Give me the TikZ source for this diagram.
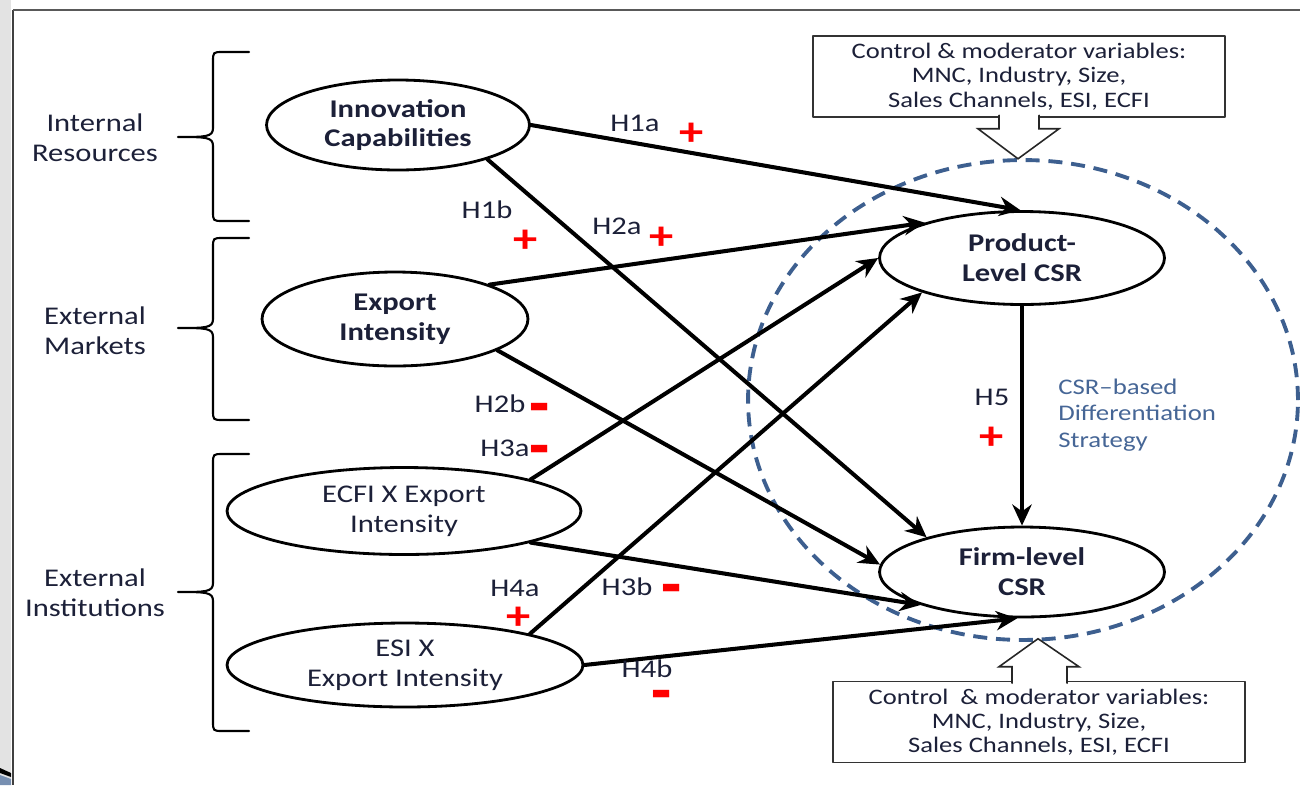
\documentclass[tikz,border=0pt]{standalone}
\usepackage{fontspec}
\setmainfont{Carlito}[FakeStretch=1.2]
\usetikzlibrary{arrows.meta,shapes.geometric}
\definecolor{txt}{RGB}{28,32,56}
\definecolor{csrblue}{RGB}{61,95,143}
\definecolor{stratblue}{RGB}{70,102,150}
\tikzset{
	construct/.style={draw,ellipse,line width=1.6pt,inner sep=0pt,align=center,text=txt,font=\fontsize{14.5}{17}\selectfont},
	ctlbox/.style={draw=black!80,line width=0.9pt,fill=white,minimum width=8.24cm,minimum height=1.62cm,inner sep=0pt,align=center,text=txt,font=\fontsize{12.6}{13.8}\selectfont},
	fatarrow/.style={draw=black!85,line width=0.9pt,fill=white,line join=miter},
	link/.style={->,line width=2.3pt},
	bracket/.style={line width=1.2pt},
	grouplabel/.style={align=center,text=txt,font=\fontsize{14.5}{17}\selectfont},
	hyp/.style={text=txt,inner sep=0pt,font=\fontsize{14.5}{17}\selectfont},
	plus/.style={text=red,inner sep=0pt,font=\fontsize{23}{23}\selectfont\bfseries},
	minus/.style={text=red,inner sep=0pt,font=\fontsize{24}{24}\selectfont\bfseries}
}
\begin{document}
\begin{tikzpicture}[x=0.02cm,y=-0.02cm,>={Stealth[length=12pt,width=11pt]},line join=round,line cap=round,font=\fontsize{13}{16}\selectfont]
	\useasboundingbox (0,0) rectangle (1300,785);
	% window frame
	\fill[gray!22] (0,0) rectangle (11,785);
	\fill[black] (0,768) -- (11,773) -- (11,777) -- (0,773) -- cycle;
	\fill[csrblue!70] (0,775) -- (11,779) -- (11,785) -- (0,785) -- cycle;
	\draw[black!75,line width=1.1pt,line cap=butt] (13,10) -- (13,785);
	\draw[black!65,line width=0.7pt,line cap=butt] (13,10) -- (1300,10);
	
	\draw[csrblue,line width=2.2pt,dash pattern=on 8pt off 5pt,line cap=butt] (1023,400) ellipse [x radius=5.5cm,y radius=4.8cm];
	
	\foreach \yt/\ym/\yb in {52/137/221,238/328/420,454/592/731}
	\draw[bracket] (249,\yt) -- (223,\yt) .. controls (213,\yt) .. (213,\yt+10) -- (213,\ym-9)
	.. controls (213,\ym) and (206,\ym) .. (178,\ym)
	.. controls (206,\ym) and (213,\ym) .. (213,\ym+9) -- (213,\yb-10)
	.. controls (213,\yb) .. (223,\yb) -- (249,\yb);
	
	\node[grouplabel] (intres) at (95,138) {Internal\\Resources};
	\node[grouplabel] (extmkt) at (95,331) {External\\Markets};
	\node[grouplabel] (extinst) at (95,593) {External\\Institutions};
	
	\node[construct,minimum width=5.26cm,minimum height=1.8cm,font=\fontsize{14.5}{17}\selectfont\bfseries] (inno) at (398,125) {Innovation\\Capabilities};
	\node[construct,minimum width=5.32cm,minimum height=1.88cm,font=\fontsize{14.5}{17}\selectfont\bfseries] (expo) at (395,319) {Export\\Intensity};
	\node[construct,minimum width=7.08cm,minimum height=1.74cm] (ecfi) at (404,511) {ECFI X Export\\Intensity};
	\node[construct,minimum width=7.12cm,minimum height=1.68cm] (esi) at (405,665) {ESI X\\Export Intensity};
	\node[construct,minimum width=5.7cm,minimum height=1.86cm,font=\fontsize{14.5}{17}\selectfont\bfseries] (prod) at (1022,258) {Product-\\Level CSR};
	\node[construct,minimum width=5.7cm,minimum height=1.8cm,font=\fontsize{14.5}{17}\selectfont\bfseries] (firm) at (1022,572) {Firm-level\\CSR};
	
	\node[ctlbox] (ctltop) at (1019,76.5) {Control \& moderator variables:\\MNC, Industry, Size,\\Sales Channels, ESI, ECFI};
	\node[ctlbox] (ctlbot) at (1039,722) {Control~ \& moderator variables:\\MNC, Industry, Size,\\Sales Channels, ESI, ECFI};
	\draw[fatarrow] ([xshift=-0.4cm,yshift=0.05cm]ctltop.south) -- ++(0,13.5) -- ++(-21,0) -- ++(40,30) -- ++(41,-30) -- ++(-20,0) -- ++(0,-13.5);
	\draw[fatarrow] ([xshift=-0.54cm,yshift=-0.05cm]ctlbot.north) -- ++(0,-16.5) -- ++(-13,0) -- ++(39,-28) -- ++(41,28) -- ++(-12,0) -- ++(0,16.5);
	
	\draw[link] (inno.0) -- (prod.92);
	\draw[link] (inno.-21) -- (firm.160);
	\draw[link] (expo.20) -- (prod.160);
	\draw[link] (expo.-17.6) -- (firm.177.6);
	\draw[link] (ecfi.14.5) -- (prod.180);
	\draw[link] (ecfi.-14) -- (firm.198.4);
	\draw[link] (esi.14.4) -- (prod.199);
	\draw[link] (esi.0) -- (firm.264);
	\draw[link] (prod.south) -- (firm.north);
	
	\node[hyp] (h1a) at (635,123) {H1a};
	\node[plus] (s1a) at (692,134) {+};
	\node[hyp] (h1b) at (487,210) {H1b};
	\node[plus] (s1b) at (526,241) {+};
	\node[hyp] (h2a) at (617,226) {H2a};
	\node[plus] (s2a) at (662,238) {+};
	\node[hyp] (h2b) at (500,404) {H2b};
	\node[minus] (s2b) at (540,415) {\scalebox{1.3}[1.7]{-}};
	\node[hyp] (h3a) at (505,448) {H3a};
	\node[minus] (s3a) at (540,457) {\scalebox{1.3}[1.7]{-}};
	\node[hyp] (h3b) at (627,587) {H3b};
	\node[minus] (s3b) at (672,596) {\scalebox{1.3}[1.7]{-}};
	\node[hyp] (h4a) at (515,588) {H4a};
	\node[plus] (s4a) at (519,618) {+};
	\node[hyp] (h4b) at (647,669) {H4b};
	\node[minus] (s4b) at (662,702) {\scalebox{1.3}[1.7]{-}};
	\node[hyp] (h5) at (992,397) {H5};
	\node[plus] (s5) at (992,438) {+};
	
	\node[anchor=west,align=left,text=stratblue,inner sep=0pt,font=\fontsize{12.7}{15}\selectfont] (strategy) at (1058,415) {CSR--based\\Differentiation\\Strategy};
\end{tikzpicture}
\end{document}
